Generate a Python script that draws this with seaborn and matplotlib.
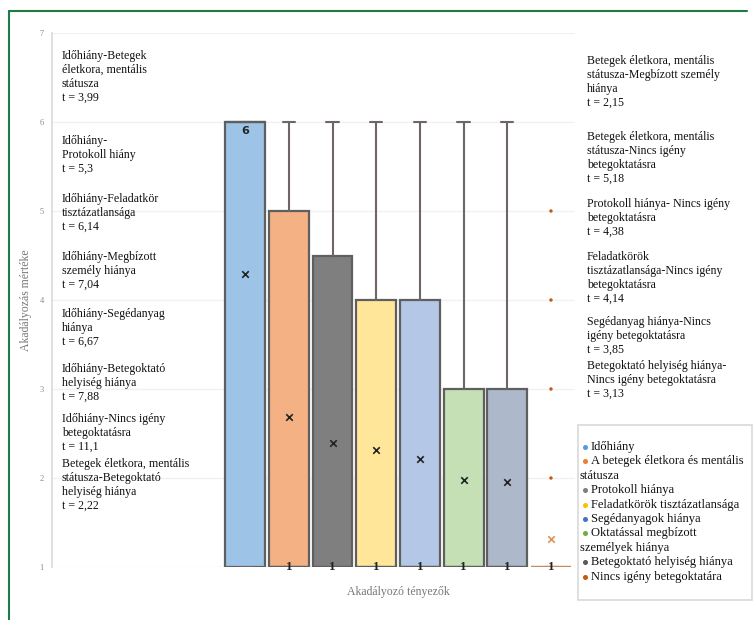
import numpy as np
import seaborn as sns
import matplotlib.pyplot as plt
from matplotlib.lines import Line2D
from matplotlib.patches import Rectangle

#   data
factors = ['Időhiány', 'A betegek életkora és mentális\nstátusza', 'Protokoll hiánya',
           'Feladatkörök tisztázatlansága', 'Segédanyagok hiánya',
           'Oktatással megbízott\nszemélyek hiánya', 'Betegoktató helyiség hiánya',
           'Nincs igény betegoktatára']
q1 = [1, 1, 1, 1, 1, 1, 1, 1]
medians = [6, 1, 1, 1, 1, 1, 1, 1]
q3 = [6, 5, 4.5, 4, 4, 3, 3, 1]
whisker_lo = [1, 1, 1, 1, 1, 1, 1, 1]
whisker_hi = [6, 6, 6, 6, 6, 6, 6, 1]
means = [4.29, 2.69, 2.39, 2.31, 2.21, 1.98, 1.95, 1.32]
outliers_last = [2, 3, 4, 5]

box_colors = ['#9DC3E6', '#F4B183', '#7F7F7F', '#FFE699', '#B4C7E7', '#C5E0B4', '#ADB9CA', '#C98B62']
legend_colors = ['#5B9BD5', '#ED7D31', '#7F7F7F', '#FFC000', '#4472C4', '#70AD47', '#5A5A5A', '#C55A11']

left_notes = ['Időhiány-Betegek\néletkora, mentális\nstátusza\nt = 3,99',
              'Időhiány-\nProtokoll hiány\nt = 5,3',
              'Időhiány-Feladatkör\ntisztázatlansága\nt = 6,14',
              'Időhiány-Megbízott\nszemély hiánya\nt = 7,04',
              'Időhiány-Segédanyag\nhiánya\nt = 6,67',
              'Időhiány-Betegoktató\nhelyiség hiánya\nt = 7,88',
              'Időhiány-Nincs igény\nbetegoktatásra\nt = 11,1',
              'Betegek életkora, mentális\nstátusza-Betegoktató\nhelyiség hiánya\nt = 2,22']
right_notes = ['Betegek életkora, mentális\nstátusza-Megbízott személy\nhiánya\nt = 2,15',
               'Betegek életkora, mentális\nstátusza-Nincs igény\nbetegoktatásra\nt = 5,18',
               'Protokoll hiánya- Nincs igény\nbetegoktatásra\nt = 4,38',
               'Feladatkörök\ntisztázatlansága-Nincs igény\nbetegoktatásra\nt = 4,14',
               'Segédanyag hiánya-Nincs\nigény betegoktatásra\nt = 3,85',
               'Betegoktató helyiség hiánya-\nNincs igény betegoktatásra\nt = 3,13']

sns.set_theme(style='white')
plt.rcParams['font.family'] = ['Liberation Serif', 'DejaVu Serif']

W, H = 756, 620
fig = plt.figure(figsize=(W / 100, H / 100), dpi=100)
ax = fig.add_axes([52 / W, 1 - 567 / H, (575 - 52) / W, (567 - 33) / H])

pos = np.arange(len(factors))
stats = []
for i in range(len(factors)):
    stats.append({'q1': q1[i], 'med': medians[i], 'q3': q3[i],
                  'whislo': whisker_lo[i], 'whishi': whisker_hi[i],
                  'mean': means[i], 'fliers': []})

bp = ax.bxp(stats, positions=pos, widths=0.915, patch_artist=True, showfliers=False,
            capwidths=0.28,
            boxprops=dict(edgecolor='#5f5f5f', linewidth=1.6),
            whiskerprops=dict(color='#6e6666', linewidth=1.5),
            capprops=dict(color='#6e6666', linewidth=1.5),
            medianprops=dict(color='#5f5f5f', linewidth=1.6), zorder=3)
for i, patch in enumerate(bp['boxes']):
    patch.set_facecolor(box_colors[i])
bp['boxes'][-1].set_edgecolor('#C98B62')
bp['medians'][-1].set_color('#C98B62')

#   means and outliers
mean_cols = ['#222222'] * 7 + ['#E0935A']
for i in range(len(factors)):
    sns.scatterplot(x=[pos[i]], y=[means[i]], marker='x', s=22, color=mean_cols[i],
                    linewidth=1.2, ax=ax, zorder=5)
sns.scatterplot(x=[pos[-1]] * len(outliers_last), y=outliers_last, s=6, color='#C55A11',
                edgecolor='none', ax=ax, zorder=5)

#   median labels
for i in range(len(factors)):
    if i == 0:
        ax.annotate(str(medians[i]), (pos[i], medians[i]), xytext=(0, -3), textcoords='offset points',
                    ha='center', va='top', fontsize=8, fontweight='bold', family='DejaVu Sans', zorder=6)
    else:
        ax.annotate(str(medians[i]), (pos[i], medians[i]), ha='center', va='center',
                    fontsize=9.5, fontweight='bold', color='#222222', zorder=6)

ax.set_xlim(-4.42, 7.55)
ax.set_ylim(1, 7)
ax.set_yticks(range(1, 8))
ax.set_xticks([])
ax.tick_params(axis='y', labelsize=6, labelcolor='#8a8a8a', length=0, pad=6)
ax.yaxis.grid(True, color='#f1f1f1', linewidth=1)
ax.set_axisbelow(True)
for s in ['top', 'right', 'bottom']:
    ax.spines[s].set_visible(False)
ax.spines['left'].set_color('#d9d9d9')
ax.spines['left'].set_linewidth(1.2)
ax.set_ylabel('Akadályozás mértéke', fontsize=8.5, color='#777777', labelpad=5)
xl = ax.text(3.5, 0.79, 'Akadályozó tényezők', ha='center', va='top', fontsize=8.5, color='#777777')
xl.set_clip_on(False)

#   t-test notes
left_tops = [50, 135, 193, 251, 308, 363, 413, 458]
for txt, yt in zip(left_notes, left_tops):
    fig.text(62 / W, 1 - yt / H, txt, ha='left', va='top', fontsize=8.6, color='#111111', linespacing=1.2)
right_tops = [55, 131, 198, 251, 316, 360]
for txt, yt in zip(right_notes, right_tops):
    fig.text(587 / W, 1 - yt / H, txt, ha='left', va='top', fontsize=8.6, color='#111111', linespacing=1.2)

#   legend, drawn by hand so wrapped lines start under the bullet
fig.add_artist(Rectangle((578 / W, 1 - 600 / H), (752 - 578) / W, (600 - 425) / H,
                         transform=fig.transFigure, facecolor='white', edgecolor='#d9d9d9', linewidth=1.2))
row = 0
for name, col in zip(factors, legend_colors):
    for k, part in enumerate(name.split('\n')):
        yy = 1 - (447 + 14.4 * row) / H
        if k == 0:
            fig.add_artist(Line2D([585 / W], [yy], marker='o', markersize=2.6, color=col, linestyle='none'))
            fig.text(591 / W, yy, part, ha='left', va='center', fontsize=9, color='#111111')
        else:
            fig.text(580 / W, yy, part, ha='left', va='center', fontsize=9, color='#111111')
        row += 1

#   green frame
fig.add_artist(Line2D([9 / W, 747 / W], [1 - 11 / H, 1 - 11 / H], color='#1e7b45', linewidth=1.5))
fig.add_artist(Line2D([9 / W, 9 / W], [1 - 11 / H, 0], color='#1e7b45', linewidth=1.5))

fig.savefig('out.png', dpi=100)
